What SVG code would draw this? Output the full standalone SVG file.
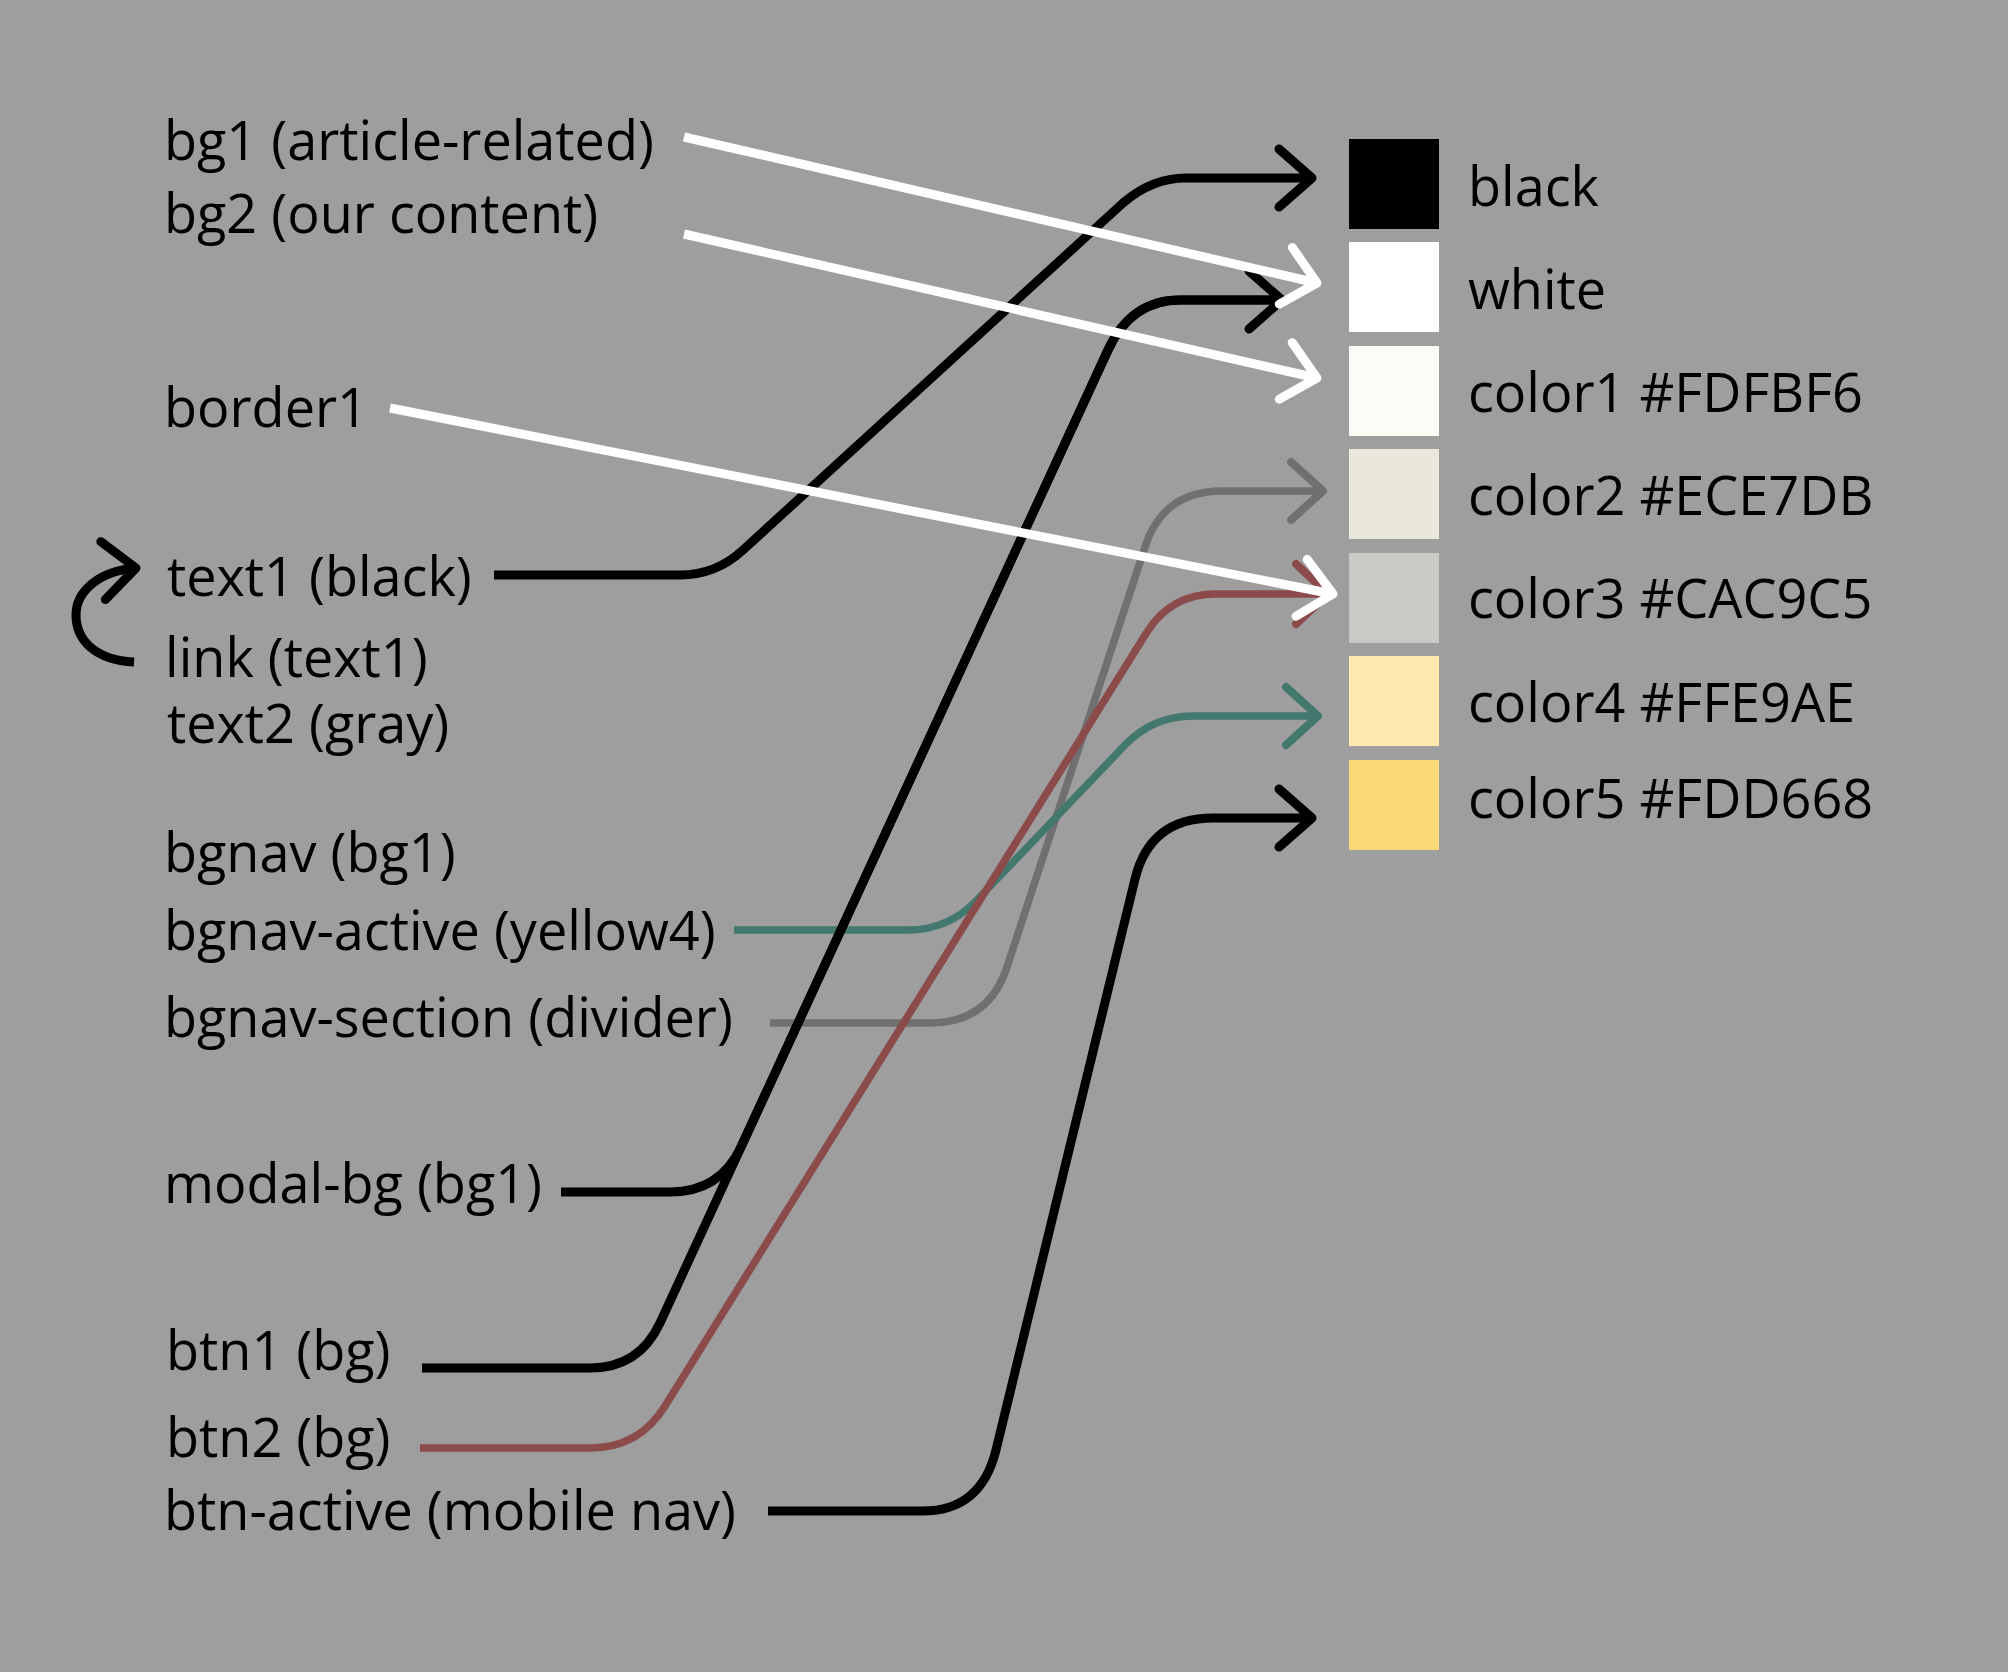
<svg xmlns="http://www.w3.org/2000/svg" width="2008" height="1672" viewBox="0 0 2008 1672">
<style>
  .lbl { font-family: "Open Sans", "Liberation Sans", sans-serif; font-size: 54px; fill: #000; }
  .c { fill: none; stroke-linecap: butt; stroke-linejoin: round; }
  .k { stroke: #000; stroke-width: 9; }
  .w { stroke: #fff; stroke-width: 9; }
  .g { stroke: #707070; stroke-width: 7.5; }
  .r { stroke: #8b4b4b; stroke-width: 7.5; }
  .t { stroke: #42786e; stroke-width: 7.5; }
  .ah { fill: none; stroke-linecap: round; stroke-linejoin: round; }
</style>
<defs>
  <marker id="m-k" markerUnits="userSpaceOnUse" orient="auto" overflow="visible" markerWidth="1" markerHeight="1" refX="0" refY="0">
    <path class="ah" d="M-33,-29 L0,0 L-33,29" stroke="#000" stroke-width="9"/>
  </marker>
  <marker id="m-w" markerUnits="userSpaceOnUse" orient="auto" overflow="visible" markerWidth="1" markerHeight="1" refX="0" refY="0">
    <path class="ah" d="M-32,-29 L0,0 L-32,29" stroke="#fff" stroke-width="9"/>
  </marker>
  <marker id="m-g" markerUnits="userSpaceOnUse" orient="auto" overflow="visible" markerWidth="1" markerHeight="1" refX="0" refY="0">
    <path class="ah" d="M-32,-29 L0,0 L-32,29" stroke="#707070" stroke-width="8"/>
  </marker>
  <marker id="m-r" markerUnits="userSpaceOnUse" orient="auto" overflow="visible" markerWidth="1" markerHeight="1" refX="0" refY="0">
    <path class="ah" d="M-32,-30 L0,0 L-32,30" stroke="#8b4b4b" stroke-width="8"/>
  </marker>
  <marker id="m-t" markerUnits="userSpaceOnUse" orient="auto" overflow="visible" markerWidth="1" markerHeight="1" refX="0" refY="0">
    <path class="ah" d="M-32,-29 L0,0 L-32,29" stroke="#42786e" stroke-width="8"/>
  </marker>
</defs>
<rect x="0" y="0" width="2008" height="1672" fill="#9e9e9e"/>

<g id="swatches">
  <g id="sw-black"><rect x="1349" y="139" width="90" height="90" fill="#000000"/><text class="lbl" x="1468" y="206">black</text></g>
  <g id="sw-white"><rect x="1349" y="242" width="90" height="90" fill="#ffffff"/><text class="lbl" x="1468" y="309">white</text></g>
  <g id="sw-color1"><rect x="1349" y="346" width="90" height="90" fill="#FDFBF6"/><text class="lbl" x="1468" y="412">color1 #FDFBF6</text></g>
  <g id="sw-color2"><rect x="1349" y="449" width="90" height="90" fill="#ECE7DB"/><text class="lbl" x="1468" y="515">color2 #ECE7DB</text></g>
  <g id="sw-color3"><rect x="1349" y="553" width="90" height="90" fill="#CAC9C5"/><text class="lbl" x="1468" y="618">color3 #CAC9C5</text></g>
  <g id="sw-color4"><rect x="1349" y="656" width="90" height="90" fill="#FFE9AE"/><text class="lbl" x="1468" y="722">color4 #FFE9AE</text></g>
  <g id="sw-color5"><rect x="1349" y="760" width="90" height="90" fill="#F8D877"/><text class="lbl" x="1468" y="818">color5 #FDD668</text></g>
</g>

<g id="labels">
  <g id="n-bg1"><text class="lbl" x="164" y="160">bg1 (article-related)</text></g>
  <g id="n-bg2"><text class="lbl" x="164" y="233">bg2 (our content)</text></g>
  <g id="n-border1"><text class="lbl" x="164" y="427">border1</text></g>
  <g id="n-text1"><text class="lbl" x="167" y="596">text1 (black)</text></g>
  <g id="n-link"><text class="lbl" x="165" y="677">link (text1)</text></g>
  <g id="n-text2"><text class="lbl" x="167" y="743">text2 (gray)</text></g>
  <g id="n-bgnav"><text class="lbl" x="164" y="872">bgnav (bg1)</text></g>
  <g id="n-bgnav-active"><text class="lbl" x="164" y="950">bgnav-active (yellow4)</text></g>
  <g id="n-bgnav-section"><text class="lbl" x="164" y="1037">bgnav-section (divider)</text></g>
  <g id="n-modal-bg"><text class="lbl" x="164" y="1203">modal-bg (bg1)</text></g>
  <g id="n-btn1"><text class="lbl" x="166" y="1370">btn1 (bg)</text></g>
  <g id="n-btn2"><text class="lbl" x="166" y="1457">btn2 (bg)</text></g>
  <g id="n-btn-active"><text class="lbl" x="164" y="1530">btn-active (mobile nav)</text></g>
</g>

<g id="connectors">
  <path class="c g" marker-end="url(#m-g)" d="M770,1023 H930 Q989,1023 1007,967 L1145,547 Q1163,491 1222,491 H1323"/>
  <path class="c t" marker-end="url(#m-t)" d="M734,930 H908 Q948,930 976,901 L1125,745 Q1153,716 1193,716 H1318"/>
  <path class="c r" marker-end="url(#m-r)" d="M420,1448 H590 Q639,1448 665,1406 L1147,632 Q1171,594 1216,594 H1328"/>
  <path class="c k" marker-end="url(#m-k)" d="M768,1511 H923 Q981,1511 996,1450 L1135,879 Q1150,818 1213,818 H1312"/>
  <path class="c k" d="M561,1192 H670 Q720,1192 741,1147 L1108,350 Q1131,300 1180,300 H1282"/>
  <path class="c k" marker-end="url(#m-k)" d="M422,1368 H590 Q639,1368 660,1323 L1108,350 Q1131,300 1180,300 H1282"/>
  <path class="c k" marker-end="url(#m-k)" d="M494,575 H680 Q716,575 743,550 L1123,203 Q1152,178 1186,178 H1312"/>
  <path class="c k" stroke-width="10" marker-end="url(#m-k)" d="M134,662 C95,660 76,640 76,615 C76,592 98,571 136,568"/>
  <path class="c w" marker-end="url(#m-w)" d="M684,137 L1317,283"/>
  <path class="c w" marker-end="url(#m-w)" d="M684,234 L1317,378"/>
  <path class="c w" marker-end="url(#m-w)" d="M390,408 L1333,594"/>
</g>
</svg>
